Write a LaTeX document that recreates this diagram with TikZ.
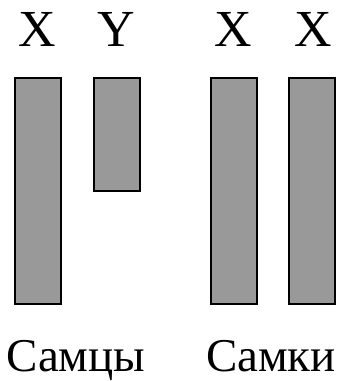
\documentclass[tikz,border=0pt]{standalone}
\usepackage{fontspec}
\setmainfont{Liberation Serif}
\definecolor{chrom}{RGB}{153,153,153}
\tikzset{chromo/.style={draw=black,fill=chrom,line width=1.8pt},
lab/.style={anchor=base,inner sep=0pt,font=\fontsize{52}{52}\selectfont},
sexlab/.style={anchor=base,inner sep=0pt,font=\fontsize{47}{47}\selectfont}}
\begin{document}
\begin{tikzpicture}[x=1pt,y=-1pt]
\useasboundingbox (0,0) rectangle (341,381);
\filldraw[chromo] (15,78) rectangle (61,304);
\filldraw[chromo] (94,78) rectangle (140,191);
\filldraw[chromo] (211,78) rectangle (257,304);
\filldraw[chromo] (289,78) rectangle (335,304);
\node[lab] (x1) at (37,46) {X};
\node[lab] (y1) at (116,46) {Y};
\node[lab] (x2) at (233,46) {X};
\node[lab] (x3) at (313,46) {X};
\node[sexlab] (m) at (76,371) {Самцы};
\node[sexlab] (f) at (271,371) {Самки};
\end{tikzpicture}
\end{document}
